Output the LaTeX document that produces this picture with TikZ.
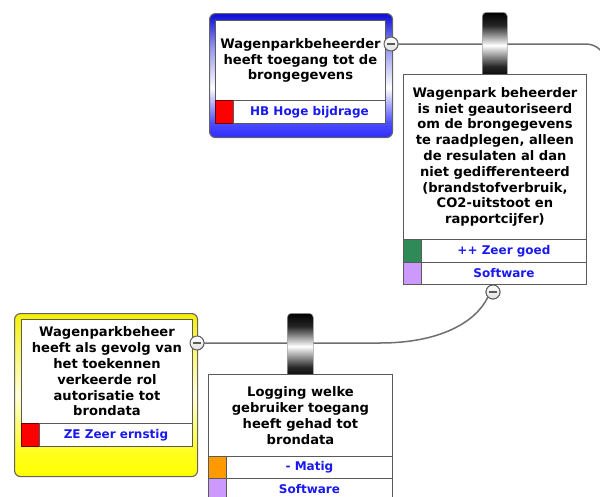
\documentclass[tikz,border=0pt]{standalone}
\usepackage{fontspec}
\setmainfont{DejaVu Sans}
% colours
\definecolor{frameline}{RGB}{100,100,100}
\definecolor{cellline}{RGB}{90,90,90}
\definecolor{connline}{RGB}{110,110,110}
\definecolor{lbltext}{RGB}{25,25,240}
\definecolor{bluetop}{RGB}{10,10,215}
\definecolor{bluebot}{RGB}{45,45,255}
\definecolor{yeltop}{RGB}{245,240,0}
\definecolor{yelbot}{RGB}{255,255,0}
\definecolor{sevred}{RGB}{255,0,0}
\definecolor{goodgreen}{RGB}{46,139,87}
\definecolor{midorange}{RGB}{255,153,0}
\definecolor{softpurple}{RGB}{204,153,255}
% shadings (0bp = bottom, path spans 25bp..75bp)
\pgfdeclareverticalshading{bluefrmsh}{100bp}{color(0bp)=(bluebot); color(25bp)=(bluebot); color(31bp)=(bluebot!85!white); color(45bp)=(white); color(62bp)=(bluetop!45!white); color(75bp)=(bluetop); color(100bp)=(bluetop)}
\pgfdeclareverticalshading{yelfrmsh}{100bp}{color(0bp)=(yelbot); color(25bp)=(yelbot); color(32bp)=(yelbot!90!white); color(50bp)=(yelbot!15!white); color(66bp)=(yeltop!65!white); color(75bp)=(yeltop); color(100bp)=(yeltop)}
\pgfdeclareverticalshading{cylsh}{100bp}{color(0bp)=(black); color(25bp)=(black); color(34bp)=(black!85); color(50bp)=(white); color(65bp)=(black!85); color(75bp)=(black); color(100bp)=(black)}
\begin{document}
\begin{tikzpicture}[x=1pt,y=-1pt,
  frame/.style={draw=frameline, line width=1.1pt, rounded corners=6pt, anchor=north west, inner sep=0pt},
  bluefrm/.style={frame, shading=bluefrmsh},
  yelfrm/.style={frame, shading=yelfrmsh},
  txtbox/.style={draw=cellline, fill=white, line width=0.9pt, anchor=north west, inner sep=0pt, align=center,
    font=\fontsize{13.1}{15.8}\selectfont\bfseries},
  swatch/.style={draw=cellline, line width=0.9pt, anchor=north west, inner sep=0pt, minimum width=18pt},
  lblrow/.style={draw=cellline, fill=white, line width=0.9pt, anchor=north west, inner sep=0pt, text=lbltext,
    font=\fontsize{12}{14}\selectfont\bfseries},
  cyl/.style={shading=cylsh, draw=gray!70, line width=0.6pt, rounded corners=4pt, anchor=north west,
    minimum width=25pt, minimum height=66pt, inner sep=0pt},
  minus/.style={circle, draw=cellline, line width=0.9pt, top color=white, bottom color=gray!25,
    minimum size=14pt, inner sep=0pt,
    path picture={\draw[cellline, line width=1.3pt]
      ([xshift=-4pt]path picture bounding box.center) -- ([xshift=4pt]path picture bounding box.center);}},
  conn/.style={draw=connline, line width=1.5pt}
]
\useasboundingbox (0,0) rectangle (600,496);

% minus handles
\node[minus] (m1) at (391,44) {};
\node[minus] (m2) at (493,292) {};
\node[minus] (m3) at (197,343) {};
\coordinate (offright) at (606,140);
\coordinate (bend) at (380,343);

% connectors (behind everything else)
\draw[conn, rounded corners=20pt] (m1.east) -| (offright);
\draw[conn] (m2.south west) .. controls (476,322) and (440,343) .. (bend) -- (m3.east);

% link cylinders
\node[cyl] (c1) at (482,12) {};
\node[cyl, minimum width=26pt] (c2) at (287,313) {};

% blue card
\node[bluefrm, minimum width=183pt, minimum height=124pt] (f1) at (209,13) {};
\node[txtbox, minimum width=170pt, minimum height=80pt] (t1) at (215,20)
  {Wagenparkbeheerder\\heeft toegang tot de\\brongegevens};
\node[swatch, fill=sevred, minimum height=23pt, draw=red!45!black] (s1) at (215,100) {};
\node[lblrow, minimum width=152pt, minimum height=23pt] (l1) at (233,100) {HB Hoge bijdrage};

% measure card
\node[txtbox, minimum width=183pt, minimum height=165pt] (t2) at (403,74)
  {Wagenpark beheerder\\is niet geautoriseerd\\om de brongegevens\\te raadplegen, alleen\\de resulaten al dan\\niet gedifferenteerd\\(brandstofverbruik,\\CO2-uitstoot en\\rapportcijfer)};
\node[swatch, fill=goodgreen, minimum height=23pt] (s2) at (403,239) {};
\node[lblrow, minimum width=165pt, minimum height=23pt] (l2) at (421,239) {++ Zeer goed};
\node[swatch, fill=softpurple, minimum height=22pt] (s3) at (403,262) {};
\node[lblrow, minimum width=165pt, minimum height=22pt] (l3) at (421,262) {Software};

% yellow card
\node[yelfrm, minimum width=183pt, minimum height=163pt] (f2) at (14,313) {};
\node[txtbox, minimum width=171pt, minimum height=104pt] (t3) at (21,319)
  {Wagenparkbeheer\\heeft als gevolg van\\het toekennen\\verkeerde rol\\autorisatie tot\\brondata};
\node[swatch, fill=sevred, minimum height=23pt, draw=red!45!black] (s4) at (21,423) {};
\node[lblrow, minimum width=153pt, minimum height=23pt] (l4) at (39,423) {ZE Zeer ernstig};

% logging card
\node[txtbox, minimum width=184pt, minimum height=82pt] (t4) at (208,374)
  {Logging welke\\gebruiker toegang\\heeft gehad tot\\brondata};
\node[swatch, fill=midorange, minimum height=22pt] (s5) at (208,456) {};
\node[lblrow, minimum width=166pt, minimum height=22pt] (l5) at (226,456) {- Matig};
\node[swatch, fill=softpurple, minimum height=22pt] (s6) at (208,478) {};
\node[lblrow, minimum width=166pt, minimum height=22pt] (l6) at (226,478) {Software};

% handles on top
\node[minus] at (m1) {};
\node[minus] at (m2) {};
\node[minus] at (m3) {};
\end{tikzpicture}
\end{document}
